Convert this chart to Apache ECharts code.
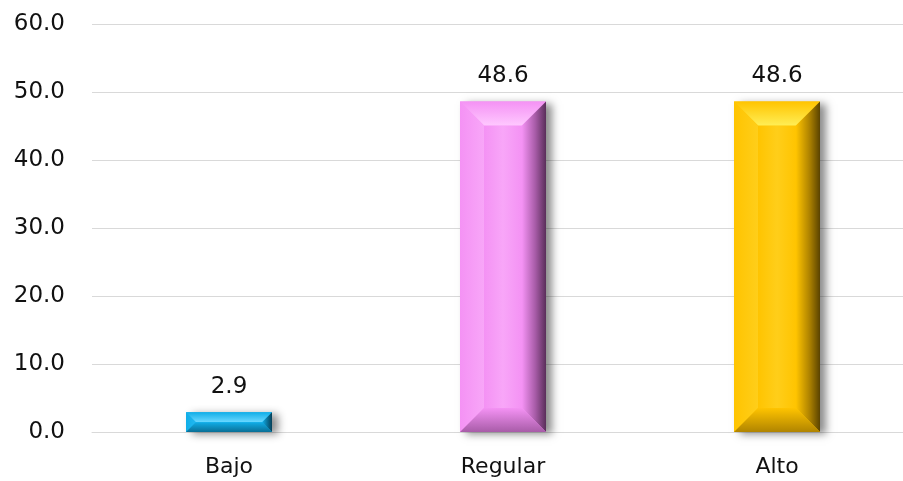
<!DOCTYPE html>
<html><head><meta charset="utf-8">
<script src="https://cdn.jsdelivr.net/npm/echarts@6/dist/echarts.min.js"></script>
<style>html,body{margin:0;padding:0;background:#fff}#c{width:903px;height:481px}</style>
</head><body><div id="c"></div>
<script>
const categories = ['Bajo', 'Regular', 'Alto'];
const values = [2.9, 48.6, 48.6];
const barColors = [
  {face:'#10aee8', light:'#6ad8ff', side:'#22b8f0', dark:'#0a6f96', deep:'#063f57'},
  {face:'#f492f4', light:'#ffc8ff', side:'#f8a6f8', dark:'#a85ca8', deep:'#5a2e5a'},
  {face:'#ffc400', light:'#ffee55', side:'#ffce1a', dark:'#b08400', deep:'#5a4300'}
];
const yTicks = [0, 60, 10];

const FONT_FAMILY = '"DejaVu Sans", sans-serif';
const chart = echarts.init(document.getElementById('c'));
chart.setOption({
  animation:false,
  grid:{left:92, top:24, right:-11, bottom:49, containLabel:false, outerBoundsMode:'none'},
  xAxis:{type:'category', data:categories,
    axisLine:{show:true, lineStyle:{color:'#d9d9d9', width:1}},
    axisTick:{show:false},
    axisLabel:{color:'#111', fontSize:22, fontFamily:FONT_FAMILY, margin:24}},
  yAxis:{type:'value', min:yTicks[0], max:yTicks[1], interval:yTicks[2],
    axisLine:{show:false}, axisTick:{show:false},
    splitLine:{lineStyle:{color:'#d9d9d9', width:1}},
    axisLabel:{color:'#111', fontSize:23, fontFamily:FONT_FAMILY, margin:27,
      formatter:v=>v.toFixed(1)}},
  series:[{
    type:'custom',
    data: values.map((v,i)=>[i,v]),
    encode:{x:0,y:1},
    renderItem:function(params, api){
      const i = api.value(0), v = api.value(1);
      const top = api.coord([i, v]);
      const base = api.coord([i, 0]);
      const w = 86;
      const x0 = top[0]-w/2, x1 = top[0]+w/2, y0 = top[1], y1 = base[1];
      const h = y1 - y0;
      const b = Math.min(24, h/2, w/2);
      const c = barColors[i];
      const font = '23px ' + FONT_FAMILY;
      const children = [
        {type:'rect', shape:{x:x0, y:y0, width:w, height:h},
          style:{fill:c.face, shadowColor:'rgba(0,0,0,0.45)', shadowBlur:8, shadowOffsetX:6, shadowOffsetY:2}},
        {type:'rect', shape:{x:x0+b, y:y0+b, width:w-2*b, height:Math.max(0,h-2*b)},
          style:{fill:new echarts.graphic.LinearGradient(0,0,1,0,[{offset:0,color:c.face},{offset:0.5,color:c.side},{offset:1,color:c.face}])}},
        {type:'polygon', shape:{points:[[x0,y0],[x1,y0],[x1-b,y0+b],[x0+b,y0+b]]},
          style:{fill:new echarts.graphic.LinearGradient(0,0,0,1,[{offset:0,color:c.face},{offset:1,color:c.light}])}},
        {type:'polygon', shape:{points:[[x0,y0],[x0+b,y0+b],[x0+b,y1-b],[x0,y1]]},
          style:{fill:new echarts.graphic.LinearGradient(0,0,1,0,[{offset:0,color:c.face},{offset:1,color:c.side}])}},
        {type:'polygon', shape:{points:[[x1,y0],[x1,y1],[x1-b,y1-b],[x1-b,y0+b]]},
          style:{fill:new echarts.graphic.LinearGradient(0,0,1,0,[{offset:0,color:c.face},{offset:0.55,color:c.dark},{offset:1,color:c.deep}])}},
        {type:'polygon', shape:{points:[[x0,y1],[x0+b,y1-b],[x1-b,y1-b],[x1,y1]]},
          style:{fill:new echarts.graphic.LinearGradient(0,0,0,1,[{offset:0,color:c.face},{offset:1,color:c.dark}])}},
        {type:'text', style:{text:v.toFixed(1), x:top[0], y:y0-25, align:'center', verticalAlign:'middle', font:font, fill:'#111'}}
      ];
      return {type:'group', children:children};
    }
  }]
});
</script></body></html>
